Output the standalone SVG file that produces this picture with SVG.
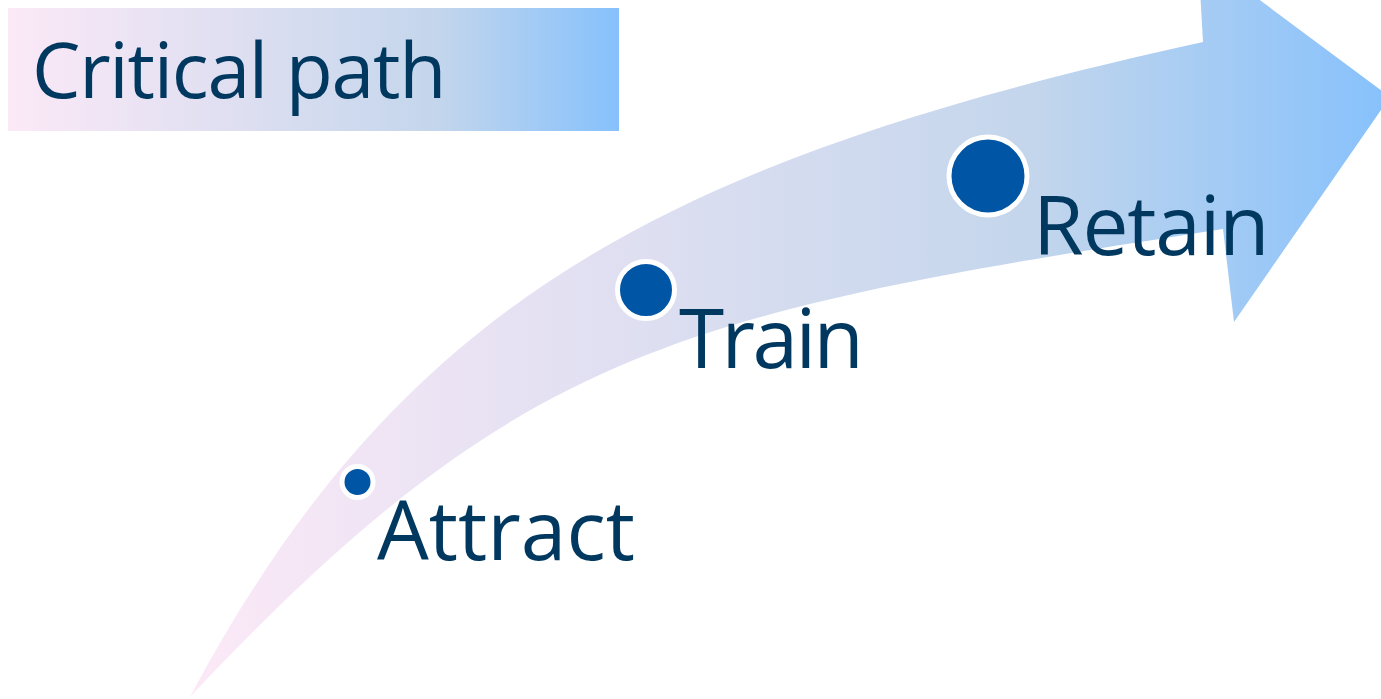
<svg xmlns="http://www.w3.org/2000/svg" width="1381" height="699" viewBox="0 0 1381 699">
  <defs>
    <linearGradient id="gArrow" gradientUnits="userSpaceOnUse" x1="190" y1="0" x2="1390" y2="0">
      <stop offset="0" stop-color="#FCE9F7"/>
      <stop offset="0.7" stop-color="#C4D6EC"/>
      <stop offset="1" stop-color="#86C1FC"/>
    </linearGradient>
    <linearGradient id="gTitle" gradientUnits="userSpaceOnUse" x1="8" y1="0" x2="619" y2="0">
      <stop offset="0" stop-color="#FCE9F7"/>
      <stop offset="0.7" stop-color="#C4D6EC"/>
      <stop offset="1" stop-color="#86C1FC"/>
    </linearGradient>
    <style>
      .lbl { font-family: "Open Sans", "Liberation Sans", sans-serif; fill: #00385F; }
      .dot { fill: #0055A5; stroke: #FFFFFF; }
    </style>
  </defs>
  <g id="connectors">
    <path id="arrow" fill="url(#gArrow)" d="M190,697 C401,301 666,160 1203,42 L1198,-46 L1390,97 L1234,322 L1223,229 C680,313 519,347 190,697 Z"/>
  </g>
  <g id="title">
    <rect x="8" y="8" width="611" height="123" fill="url(#gTitle)"/>
    <text class="lbl" x="32" y="98" font-size="77" letter-spacing="-1.3">Critical path</text>
  </g>
  <g id="attract">
    <circle class="dot" cx="357.5" cy="482" r="15.5" stroke-width="5"/>
    <text class="lbl" x="377" y="560" font-size="82">Attract</text>
  </g>
  <g id="train">
    <circle class="dot" cx="646" cy="290" r="28.5" stroke-width="5"/>
    <text class="lbl" x="679" y="368" font-size="82" letter-spacing="-2.6">Train</text>
  </g>
  <g id="retain">
    <circle class="dot" cx="988" cy="176" r="39" stroke-width="5"/>
    <text class="lbl" x="1033" y="255" font-size="82" letter-spacing="-1.2">Retain</text>
  </g>
</svg>
